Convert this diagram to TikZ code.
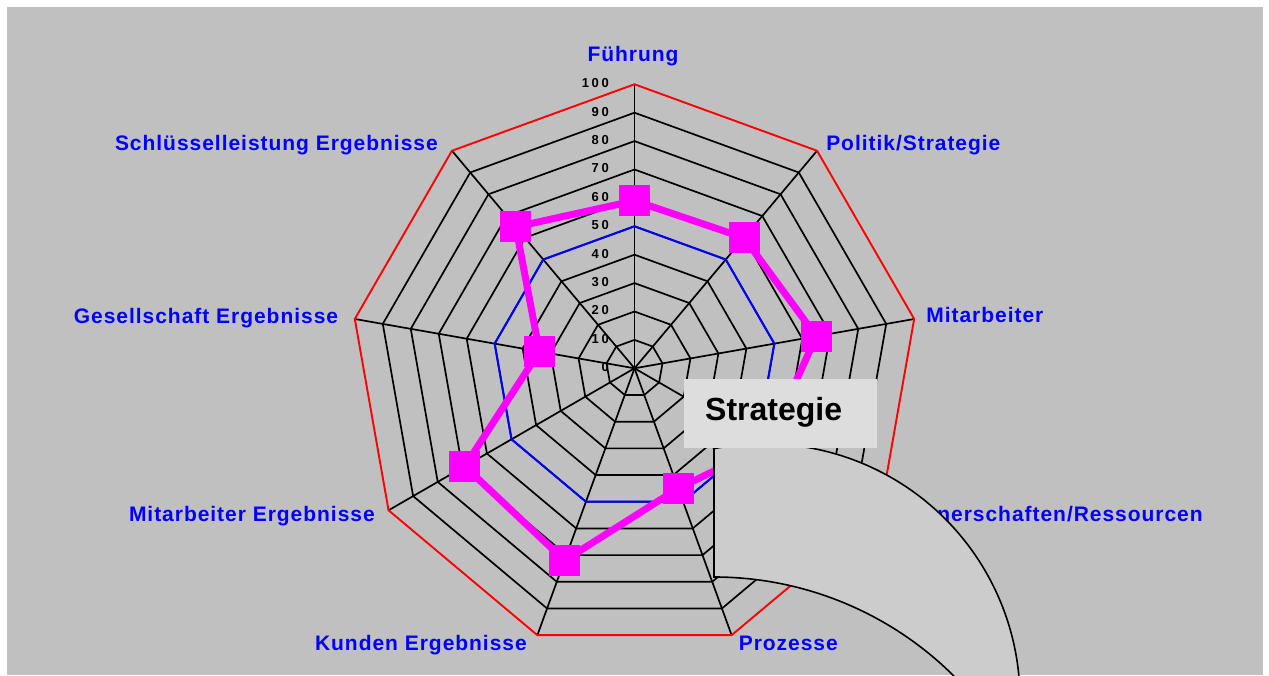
\documentclass[tikz,border=0pt]{standalone}
\usepackage{fontspec}
\setmainfont{Liberation Sans}
\newfontfamily\axisfont[LetterSpace=4.6]{Liberation Sans}
\newfontfamily\tickfont[LetterSpace=20]{Liberation Sans}
\usetikzlibrary{calc}

\definecolor{chartgray}{RGB}{192,192,192}
\definecolor{calloutgray}{RGB}{204,204,204}
\definecolor{boxgray}{RGB}{221,221,221}
\definecolor{seriesmagenta}{RGB}{255,0,255}

\tikzset{
  ringline/.style={black, line width=1.7pt},
  axislabel/.style={text=blue, inner sep=0pt, font=\axisfont\bfseries\fontsize{21}{25}\selectfont},
  ticklabel/.style={inner sep=0pt, font=\tickfont\bfseries\fontsize{13}{15}\selectfont},
  sqmark/.style={fill=seriesmagenta, minimum size=31pt, inner sep=0pt},
}

\begin{document}
\begin{tikzpicture}[x=1pt, y=1pt]

    \useasboundingbox (0,0) rectangle (1269,675);

    % Gray chart area
    \fill[chartgray] (7,0) rectangle (1263,668);

    % Centre of the radar chart
    \coordinate (O) at (634.5,306.7);

    % Vertices of the outer ring (100), one per axis
    \foreach \i/\a in {1/90,2/50,3/10,4/-30,5/-70,6/-110,7/-150,8/170,9/130}
        \coordinate (v\i) at ($(O)+(\a:284)$);

    % Rings 10 ... 90
    \begin{scope}[shift={(O)}]
        \foreach \k in {1,...,9}
            \draw[ringline] (90:{\k*28.4}) \foreach \a in {50,10,-30,-70,-110,-150,170,130} {-- (\a:{\k*28.4})} -- cycle;
    \end{scope}

    % Spokes from the centre
    \foreach \i in {1,...,9}
        \draw[ringline] (O) -- (v\i);

    % Outer ring at 100
    \draw[red, line width=1.9pt] (v1) -- (v2) -- (v3) -- (v4) -- (v5) -- (v6) -- (v7) -- (v8) -- (v9) -- cycle;

    % Second series, all at 50
    \begin{scope}[shift={(O)}]
        \draw[blue, line width=2pt] (90:142) \foreach \a in {50,10,-30,-70,-110,-150,170,130} {-- (\a:142)} -- cycle;
    \end{scope}

    % Scale labels on the upper axis
    \foreach \v in {0,10,...,100}
        \node[ticklabel, anchor=east] (t\v) at ($(O)+(-25.5,{\v*2.84+1})$) {\v};

    % Data points of the main series
    \foreach \i/\a/\v in {1/90/59,2/50/60,3/10/65,4/-30/54,5/-70/45,6/-110/72,7/-150/69,8/170/34,9/130/65}
        \coordinate (d\i) at ($(O)+(\a:{\v*2.84})$);

    \draw[seriesmagenta, line width=7pt] (d1) -- (d2) -- (d3) -- (d4) -- (d5) -- (d6) -- (d7) -- (d8) -- (d9) -- cycle;

    \foreach \i in {1,...,9}
        \node[sqmark] (m\i) at (d\i) {};

    % Axis labels
    \node[axislabel, anchor=base] (lFue) at ([xshift=-1.5pt, yshift=22.6pt]v1) {Führung};
    \node[axislabel, anchor=base west] (lPol) at ([xshift=9pt]v2) {Politik/Strategie};
    \node[axislabel, anchor=base west] (lMit) at ([xshift=12pt, yshift=-4pt]v3) {Mitarbeiter};
    \node[axislabel, anchor=base west] (lPar) at ([xshift=12pt, yshift=-11.7pt]v4) {Partnerschaften/Ressourcen};
    \node[axislabel, anchor=base west] (lPro) at ([xshift=7pt, yshift=-15.5pt]v5) {Prozesse};
    \node[axislabel, anchor=base east] (lKun) at ([xshift=-10.4pt, yshift=-15.5pt]v6) {Kunden Ergebnisse};
    \node[axislabel, anchor=base east] (lMAE) at ([xshift=-13.6pt, yshift=-11.7pt]v7) {Mitarbeiter Ergebnisse};
    \node[axislabel, anchor=base east] (lGes) at ([xshift=-16.5pt, yshift=-4.3pt]v8) {Gesellschaft Ergebnisse};
    \node[axislabel, anchor=base east] (lSch) at ([xshift=-14pt]v9) {Schlüsselleistung Ergebnisse};

    % Curved callout shape, cut off by the chart area
    \begin{scope}
        \clip (7,0) rectangle (1263,668);
        \filldraw[fill=calloutgray, draw=black, line width=1.6pt] (714,226) -- (714,98)
            arc[start angle=90, end angle=40, radius=340] -- (1019,-47)
            arc[start angle=-5, end angle=101.3, radius=256] -- cycle;
    \end{scope}

    % Callout box with its title
    \node[fill=boxgray, minimum width=193pt, minimum height=69pt, inner sep=0pt, anchor=north west] (callbox) at (684,296) {};
    \node[inner sep=0pt, anchor=base west, font=\bfseries\fontsize{32}{36}\selectfont] (calltext) at (705,254) {Strategie};

\end{tikzpicture}
\end{document}
